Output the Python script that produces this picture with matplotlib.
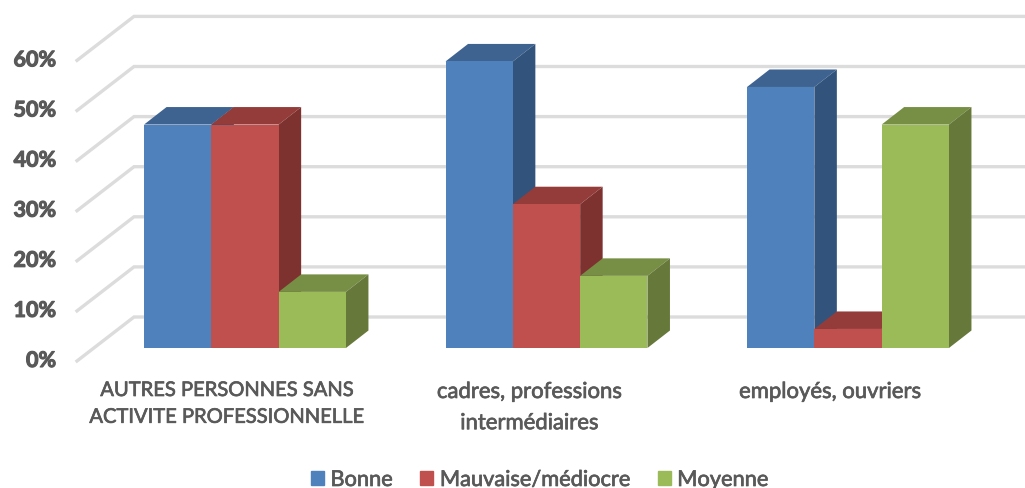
import matplotlib
matplotlib.use("Agg")
import matplotlib.pyplot as plt
import matplotlib.patheffects as pe
from matplotlib.patches import Patch, Polygon

plt.rcParams['font.family'] = ['Lato', 'DejaVu Sans']

categories = ["AUTRES PERSONNES SANS\nACTIVITE PROFESSIONNELLE",
              "cadres, professions\nintermédiaires",
              "employés, ouvriers"]
series_names = ["Bonne", "Mauvaise/médiocre", "Moyenne"]
bonne = [44.6, 57.2, 52.1]
mauvaise = [44.6, 28.7, 3.8]
moyenne = [11.2, 14.4, 44.6]
y_ticks = [0, 10, 20, 30, 40, 50, 60]

front_colors = ["#4F81BD", "#C0504D", "#9BBB59"]
top_colors = ["#3E6390", "#943C3A", "#778F45"]
side_colors = ["#32547C", "#7D322F", "#66783A"]
grid_color = "#DCDCDC"
text_color = "#595959"

W, H = 1025, 488
# une unite x = ecart entre groupes, axe y en %
px_x = 301.5
px_y = 5.01
x0 = 245
y0 = 348

fig = plt.figure(figsize=(W / 100, H / 100), dpi=100)
ax = fig.add_axes([0, 0, 1, 1])
ax.set_xlim(-x0 / px_x, (W - x0) / px_x)
ax.set_ylim(-(H - y0) / px_y, y0 / px_y)
ax.axis("off")

bar_w = 67.3 / px_x
depth_x = 22.5 / px_x
depth_y = 17.5 / px_y
thick = [pe.withStroke(linewidth=0.5, foreground=text_color)]

# grille : cote gauche en biais puis fond
wall_x = [-168 / px_x, -111 / px_x]
wall_dy = [-13 / px_y, 31 / px_y]
right_x = (W - x0) / px_x
for t in y_ticks:
    ax.plot(wall_x + [right_x], [t + wall_dy[0], t + wall_dy[1], t + wall_dy[1]],
            color=grid_color, lw=2.4, solid_joinstyle="miter", zorder=1)
    ax.text(-189 / px_x, t + wall_dy[0] + 0.1, f"{t}%", ha="right", va="center",
            fontsize=15.5, fontweight="bold", color=text_color,
            path_effects=[pe.withStroke(linewidth=0.8, foreground=text_color)])

label_sizes = [14.5, 15.9, 15.9]
label_x = [-18 / px_x, -17 / px_x, -18 / px_x]
z = 2
for i, cat in enumerate(categories):
    for j, vals in enumerate([bonne, mauvaise, moyenne]):
        v = vals[i]
        x1 = i + (j - 1.5) * bar_w
        x2 = x1 + bar_w
        ax.add_patch(Polygon([(x1, 0), (x2, 0), (x2, v), (x1, v)],
                             color=front_colors[j], lw=0, zorder=z + 2))
        ax.add_patch(Polygon([(x1, v), (x2, v), (x2 + depth_x, v + depth_y), (x1 + depth_x, v + depth_y)],
                             color=top_colors[j], lw=0, zorder=z))
        ax.add_patch(Polygon([(x2, 0), (x2 + depth_x, depth_y), (x2 + depth_x, v + depth_y), (x2, v)],
                             color=side_colors[j], lw=0, zorder=z + 1))
        z += 3
    ax.text(i + label_x[i], -34 / px_y, cat, ha="center", va="top", fontsize=label_sizes[i],
            color=text_color, linespacing=1.7, path_effects=thick)

handles = [Patch(color=c, label=n) for c, n in zip(front_colors, series_names)]
leg = ax.legend(handles=handles, loc="center", bbox_to_anchor=(539.5 / W, 1 - 480 / H),
                ncol=3, frameon=False, fontsize=15.7, handlelength=0.6, handleheight=0.6,
                handletextpad=0.3, columnspacing=1.27, labelcolor=text_color,
                borderpad=0, borderaxespad=0)
for txt in leg.get_texts():
    txt.set_path_effects(thick)

fig.savefig("out.png", dpi=100)
